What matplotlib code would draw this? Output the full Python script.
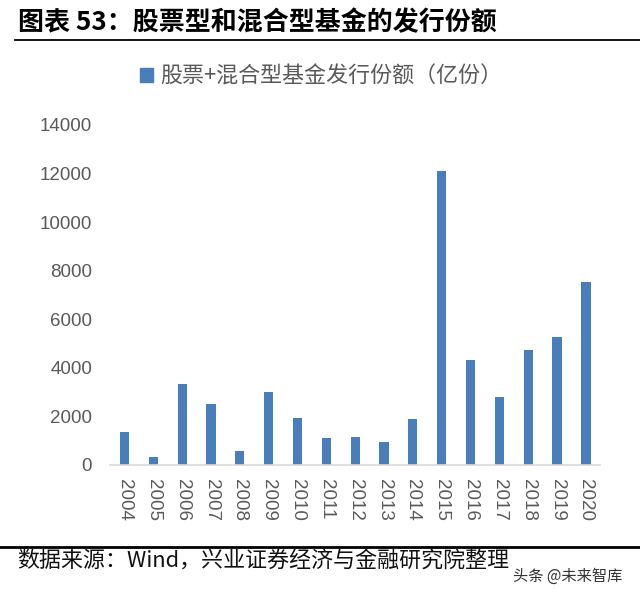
import numpy as np
import matplotlib
matplotlib.use("Agg")
import matplotlib.pyplot as plt
from matplotlib.lines import Line2D
from matplotlib.patches import Patch

plt.rcParams['font.family'] = ['Noto Sans CJK SC', 'DejaVu Sans']

years = ['2004', '2005', '2006', '2007', '2008', '2009', '2010', '2011', '2012',
         '2013', '2014', '2015', '2016', '2017', '2018', '2019', '2020']
issued = [1360, 330, 3320, 2520, 570, 3010, 1920, 1100, 1170,
          940, 1900, 12100, 4310, 2780, 4750, 5290, 7530]
yticks = [0, 2000, 4000, 6000, 8000, 10000, 12000, 14000]

bar_color = '#4a7ebb'
tick_color = '#595959'

fig = plt.figure(figsize=(6.4, 5.94), dpi=100)
ax = fig.add_axes([0.172, 0.2172, 0.766, 0.5724])

x = np.arange(len(years))
ax.bar(x, issued, width=0.32, color=bar_color, zorder=2)
ax.set_xlim(-0.5, len(years) - 0.5)
ax.set_ylim(0, 14000)
ax.set_yticks(yticks)
ax.set_yticklabels([str(v) for v in yticks], family='Liberation Sans', fontsize=13.5, color=tick_color)
ax.set_xticks(x)
ax.set_xticklabels(years, rotation=-90, family='Liberation Sans', fontsize=13.5, color=tick_color)
ax.tick_params(axis='both', length=0)
ax.tick_params(axis='y', pad=13)
ax.tick_params(axis='x', pad=10)
for side in ['top', 'right', 'left']:
    ax.spines[side].set_visible(False)
ax.spines['bottom'].set_color('#d9d9d9')
ax.spines['bottom'].set_linewidth(1.2)

# legend
fig.legend(handles=[Patch(color=bar_color)], labels=['股票+混合型基金发行份额（亿份）'],
           loc='center', bbox_to_anchor=(321 / 640, 1 - 77 / 594), frameon=False,
           fontsize=15.8, labelcolor=tick_color, handlelength=0.6, handleheight=0.6,
           handletextpad=0.3)

# header and footer
fig.text(18 / 640, 1 - 23 / 594, '图表 53：股票型和混合型基金的发行份额', fontsize=18.7,
         fontweight='bold', va='center', ha='left', color='black')
fig.add_artist(Line2D([15 / 640, 1], [1 - 40 / 594] * 2, color='black', lw=1.3))
fig.add_artist(Line2D([0, 1], [1 - 547 / 594] * 2, color='black', lw=2))
fig.text(17 / 640, 1 - 562 / 594, '数据来源：Wind，兴业证券经济与金融研究院整理', fontsize=15.8,
         va='center', ha='left', color='#111111')
fig.text(622 / 640, 1 - 576 / 594, '头条 @未来智库', fontsize=11, va='center', ha='right',
         color='#333333')

fig.savefig('out.png', dpi=100)
